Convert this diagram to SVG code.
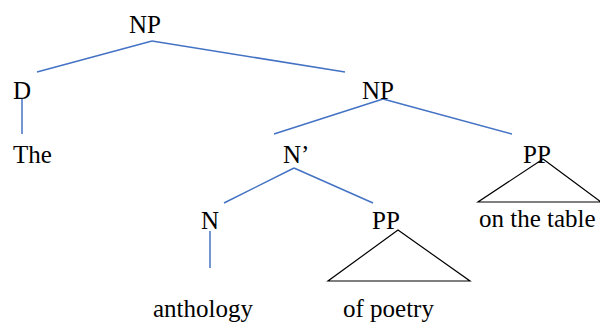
<svg xmlns="http://www.w3.org/2000/svg" width="600" height="322" viewBox="0 0 600 322">
<style>
.c{stroke:#4472C4;stroke-width:1.5;fill:none}
.t{stroke:#000;stroke-width:1.2;fill:none}
</style>
<rect width="600" height="322" fill="#fff"/>
<g id="connectors">
<line class="c" x1="152" y1="41" x2="37" y2="72"/>
<line class="c" x1="152" y1="41" x2="345" y2="72"/>
<line class="c" x1="22" y1="99" x2="22" y2="134"/>
<line class="c" x1="383" y1="99" x2="274" y2="134"/>
<line class="c" x1="383" y1="99" x2="512" y2="134"/>
<line class="c" x1="294" y1="168" x2="224" y2="203"/>
<line class="c" x1="294" y1="168" x2="373" y2="203"/>
<line class="c" x1="210" y1="231" x2="210" y2="268"/>
</g>
<g font-family="'Liberation Serif', Tinos, 'Times New Roman', 'DejaVu Serif', serif" font-size="25" fill="#000">
<g id="np-top"><text x="129" y="33">NP</text></g>
<g id="d"><text x="13" y="99">D</text></g>
<g id="np-mid"><text x="362" y="99">NP</text></g>
<g id="the"><text x="13" y="163">The</text></g>
<g id="nbar"><text x="283" y="163">N’</text></g>
<g id="pp-right"><text x="523" y="163">PP</text>
<polygon class="t" points="543,159 478,202 601,202"/>
<text x="479" y="227">on the table</text></g>
<g id="n"><text x="201" y="229">N</text></g>
<g id="pp-mid"><text x="372" y="229">PP</text>
<polygon class="t" points="398,230 328,281 470,281"/></g>
<g id="anthology"><text x="153" y="317">anthology</text></g>
<g id="of-poetry"><text x="343" y="317">of poetry</text></g>
</g>
</svg>
